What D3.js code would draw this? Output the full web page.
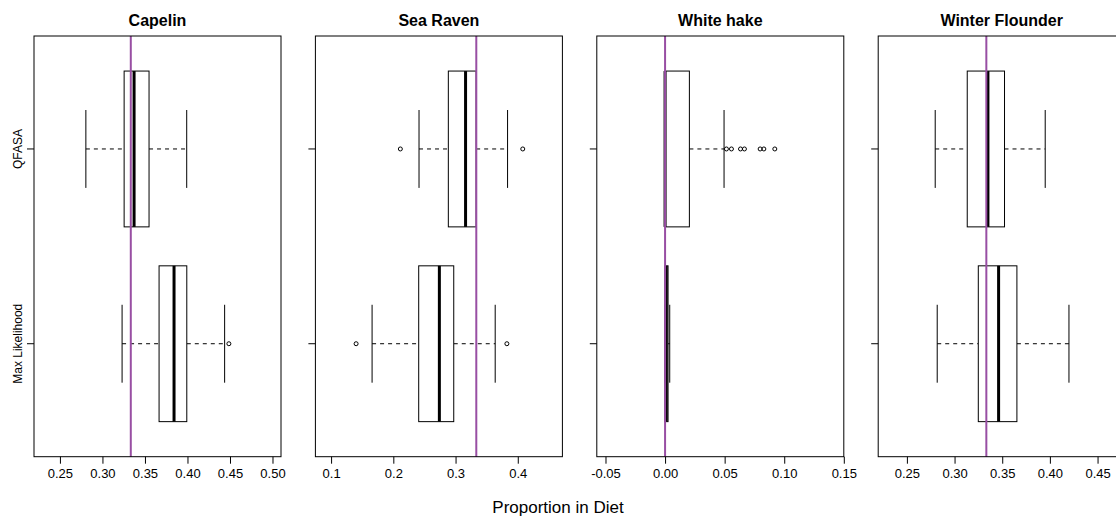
<!DOCTYPE html>
<html>
<head>
<meta charset="utf-8">
<script src="https://cdn.jsdelivr.net/npm/d3@7"></script>
<style>
  body { margin: 0; background: #fff; }
  text { font-family: "Liberation Sans", Arial, sans-serif; }
</style>
</head>
<body>
<svg id="chart" width="1116" height="519"></svg>
<script>
// panels and the two methods
const species = ["Capelin", "Sea Raven", "White hake", "Winter Flounder"];
const methods = ["QFASA", "Max Likelihood"];
const methodPos = [2, 1];

// five-number summaries [lower whisker, q1, median, q3, upper whisker]
const qfasaStats = [
  [0.2805, 0.3255, 0.3372, 0.3548, 0.3991],
  [0.2413, 0.2884, 0.3161, 0.3331, 0.3836],
  [0.0, 0.0, 0.0, 0.0204, 0.0495],
  [0.2797, 0.3133, 0.335, 0.3524, 0.3951]
];
const mlStats = [
  [0.3231, 0.3666, 0.3842, 0.3992, 0.4437],
  [0.1659, 0.2408, 0.274, 0.2971, 0.3637],
  [0.0, 0.0, 0.001, 0.0025, 0.0039],
  [0.2818, 0.3249, 0.3462, 0.3654, 0.42]
];
const qfasaOutliers = [
  [],
  [0.2113, 0.408],
  [0.0515, 0.0557, 0.0633, 0.0666, 0.0798, 0.0829, 0.0921],
  []
];
const mlOutliers = [[0.4487], [0.1402, 0.3825], [], []];

// true diet proportions (purple lines)
const trueProps = [1 / 3, 1 / 3, 0, 1 / 3];

// x axes
const xDomains = [[0.2195, 0.51], [0.0748, 0.4717], [-0.0573, 0.15], [0.2199, 0.479]];
const xTicks = [
  [0.25, 0.3, 0.35, 0.4, 0.45, 0.5],
  [0.1, 0.2, 0.3, 0.4],
  [-0.05, 0, 0.05, 0.1, 0.15],
  [0.25, 0.3, 0.35, 0.4, 0.45]
];
const tickFormats = [".2f", ".1f", ".2f", ".2f"];

// layout
let left0 = 34,
  panelStep = 281.4,
  panelW = 247,
  plotTop = 36,
  plotBottom = 456.7;

const svg = d3.select("#chart");

let yScale = d3.scaleLinear().domain([0.42, 2.58]).range([plotBottom, plotTop]);

species.forEach((name, i) => {
  let x0 = left0 + i * panelStep;
  let xScale = d3.scaleLinear().domain(xDomains[i]).range([x0, x0 + panelW]);
  let g = svg.append("g").attr("class", "panel");

  // title
  g.append("text")
    .attr("x", x0 + panelW / 2)
    .attr("y", 26)
    .attr("text-anchor", "middle")
    .style("font-size", "16px")
    .style("font-weight", "bold")
    .text(name);

  // bottom axis
  let xAxis = d3.axisBottom(xScale)
    .tickValues(xTicks[i])
    .tickFormat((d) => d3.format(tickFormats[i])(d).replace("\u2212", "-"))
    .tickSizeOuter(0)
    .tickSize(7)
    .tickPadding(5);
  let ax = g.append("g")
    .attr("transform", `translate(0,${plotBottom})`)
    .call(xAxis);
  ax.select(".domain").remove();
  ax.selectAll("text").style("font-size", "13px").attr("fill", "#000");
  ax.selectAll("line").attr("stroke", "#000");

  // left ticks
  g.selectAll(".ytick")
    .data(methodPos)
    .enter()
    .append("line")
    .attr("x1", x0 - 7)
    .attr("x2", x0)
    .attr("y1", (d) => yScale(d))
    .attr("y2", (d) => yScale(d))
    .attr("stroke", "#000");

  [qfasaStats[i], mlStats[i]].forEach((s, m) => {
    let yc = yScale(methodPos[m]);
    let yTop = yScale(methodPos[m] + 0.4),
      yBot = yScale(methodPos[m] - 0.4);
    let capTop = yScale(methodPos[m] + 0.2),
      capBot = yScale(methodPos[m] - 0.2);

    // whiskers
    g.append("line")
      .attr("x1", xScale(s[0])).attr("x2", xScale(s[1]))
      .attr("y1", yc).attr("y2", yc)
      .attr("stroke", "#000").attr("stroke-dasharray", "4,4");
    g.append("line")
      .attr("x1", xScale(s[3])).attr("x2", xScale(s[4]))
      .attr("y1", yc).attr("y2", yc)
      .attr("stroke", "#000").attr("stroke-dasharray", "4,4");
    [s[0], s[4]].forEach((v) => {
      g.append("line")
        .attr("x1", xScale(v)).attr("x2", xScale(v))
        .attr("y1", capTop).attr("y2", capBot)
        .attr("stroke", "#000");
    });

    // box
    g.append("rect")
      .attr("x", xScale(s[1]))
      .attr("y", yTop)
      .attr("width", Math.max(xScale(s[3]) - xScale(s[1]), 0.5))
      .attr("height", yBot - yTop)
      .attr("fill", "#fff")
      .attr("stroke", "#000");

    // median
    g.append("line")
      .attr("x1", xScale(s[2])).attr("x2", xScale(s[2]))
      .attr("y1", yTop).attr("y2", yBot)
      .attr("stroke", "#000").attr("stroke-width", 3);

    // outliers
    let outs = m === 0 ? qfasaOutliers[i] : mlOutliers[i];
    g.selectAll(".out" + m)
      .data(outs)
      .enter()
      .append("circle")
      .attr("cx", (d) => xScale(d))
      .attr("cy", yc)
      .attr("r", 2)
      .attr("fill", "none")
      .attr("stroke", "#000");
  });

  // true proportion line
  g.append("line")
    .attr("x1", xScale(trueProps[i])).attr("x2", xScale(trueProps[i]))
    .attr("y1", plotTop).attr("y2", plotBottom)
    .attr("stroke", "#984ea3").attr("stroke-width", 2);

  // frame
  g.append("rect")
    .attr("x", x0).attr("y", plotTop)
    .attr("width", panelW).attr("height", plotBottom - plotTop)
    .attr("fill", "none").attr("stroke", "#000");
});

// y labels on first panel
svg.selectAll(".ylab")
  .data(methods)
  .enter()
  .append("text")
  .attr("transform", (d, i) => `translate(22,${yScale(methodPos[i])}) rotate(-90)`)
  .attr("text-anchor", "middle")
  .style("font-size", "12px")
  .text((d) => d);

// x label
svg.append("text")
  .attr("x", 558)
  .attr("y", 513)
  .attr("text-anchor", "middle")
  .style("font-size", "17px")
  .text("Proportion in Diet");
</script>
</body>
</html>
